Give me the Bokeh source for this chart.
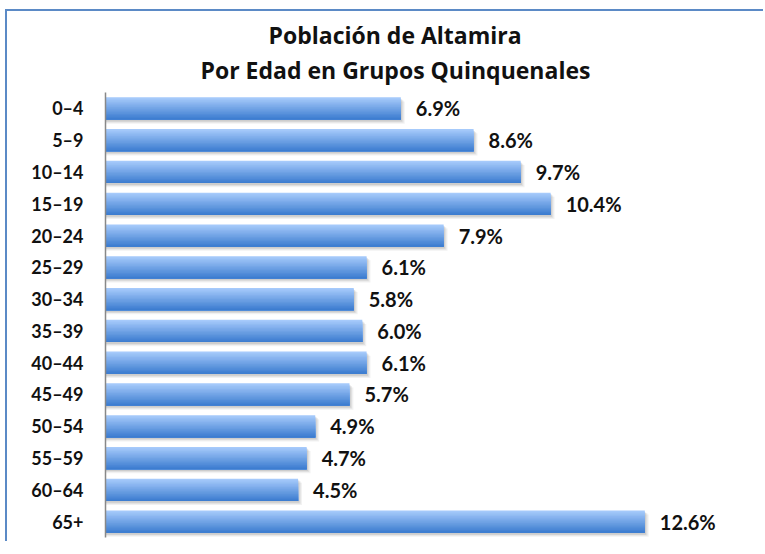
from bokeh.plotting import figure
from bokeh.models import ColumnDataSource, Range1d, FactorRange, Title
from bokeh.transform import dodge
from bokeh.core.properties import value
from bokeh.embed import file_html
from bokeh.resources import INLINE

groups = ["0-4", "5-9", "10-14", "15-19", "20-24", "25-29", "30-34", "35-39",
          "40-44", "45-49", "50-54", "55-59", "60-64", "65+"]
percent = [6.9, 8.6, 9.7, 10.4, 7.9, 6.1, 5.8, 6.0, 6.1, 5.7, 4.9, 4.7, 4.5, 12.6]
labels = [f"{v:.1f}%" for v in percent]
title_line1 = "Población de Altamira"
title_line2 = "Por Edad en Grupos Quinquenales"

FONT = "Lato"
TFONT = "Open Sans"
display_groups = [g.replace("-", "\u2013") for g in groups]

source = ColumnDataSource(dict(group=display_groups, percent=percent, label=labels))

p = figure(width=758, height=532, output_backend="svg", toolbar_location=None,
           y_range=FactorRange(*reversed(display_groups)),
           x_range=Range1d(0, 15.42), x_axis_location=None,
           min_border_left=98, min_border_right=0, min_border_bottom=6,
           min_border_top=81)
p.margin = (9, 0, 0, 5)
p.outline_line_color = None
p.xgrid.visible = False
p.ygrid.visible = False
p.background_fill_color = "white"
p.border_fill_color = "white"
p.styles = {"border-left": "2px solid #5b8ac6", "border-top": "2px solid #5b8ac6"}

# titles (second line first: later titles stack above)
p.add_layout(Title(text=title_line2, align="left", offset=95,
                   text_font=TFONT, text_font_size="23px", text_font_style="bold",
                   text_color="#111111", standoff=14), "above")
p.add_layout(Title(text=title_line1, align="left", offset=163,
                   text_font=TFONT, text_font_size="23px", text_font_style="bold",
                   text_color="#111111", standoff=-12), "above")

# soft shadow
for off, extra, a in [(-0.13, 0.09, 0.10), (-0.09, 0.06, 0.14), (-0.06, 0.03, 0.18)]:
    p.hbar(y=dodge("group", off, range=p.y_range), left=0,
           right=dodge("percent", extra), height=0.7, source=source,
           fill_color="#7a7a7a", fill_alpha=a, line_color=None)

# gradient bars: stacked layers anchored at the bar bottom, lighter on top
top_c = (0xA6, 0xCA, 0xFB)
bot_c = (0x3D, 0x7D, 0xD0)
H = 0.7
N = 16
h = H / N
for i in range(N):
    t = i / (N - 1)
    c = tuple(int(round(top_c[k] + (bot_c[k] - top_c[k]) * t)) for k in range(3))
    col = "#%02x%02x%02x" % c
    hh = H - i * h
    off = -H / 2 + hh / 2
    p.hbar(y=dodge("group", off, range=p.y_range), left=0, right="percent",
           height=hh, source=source, fill_color=col, line_color=None)

# value labels
p.text(x="percent", y="group", text="label", source=source,
       x_offset=15, text_baseline="middle", text_align="left",
       text_font=value(FONT), text_font_size="20px", text_font_style="bold",
       text_color="#111111")

ax = p.yaxis[0]
ax.axis_line_color = "#888888"
ax.axis_line_width = 1.5
ax.major_tick_line_color = None
ax.minor_tick_line_color = None
ax.major_tick_out = 0
ax.major_tick_in = 0
ax.major_label_standoff = 22
ax.major_label_text_font = FONT
ax.major_label_text_font_size = "18px"
ax.major_label_text_font_style = "bold"
ax.major_label_text_color = "#111111"

open("out.html", "w").write(file_html(p, INLINE))
